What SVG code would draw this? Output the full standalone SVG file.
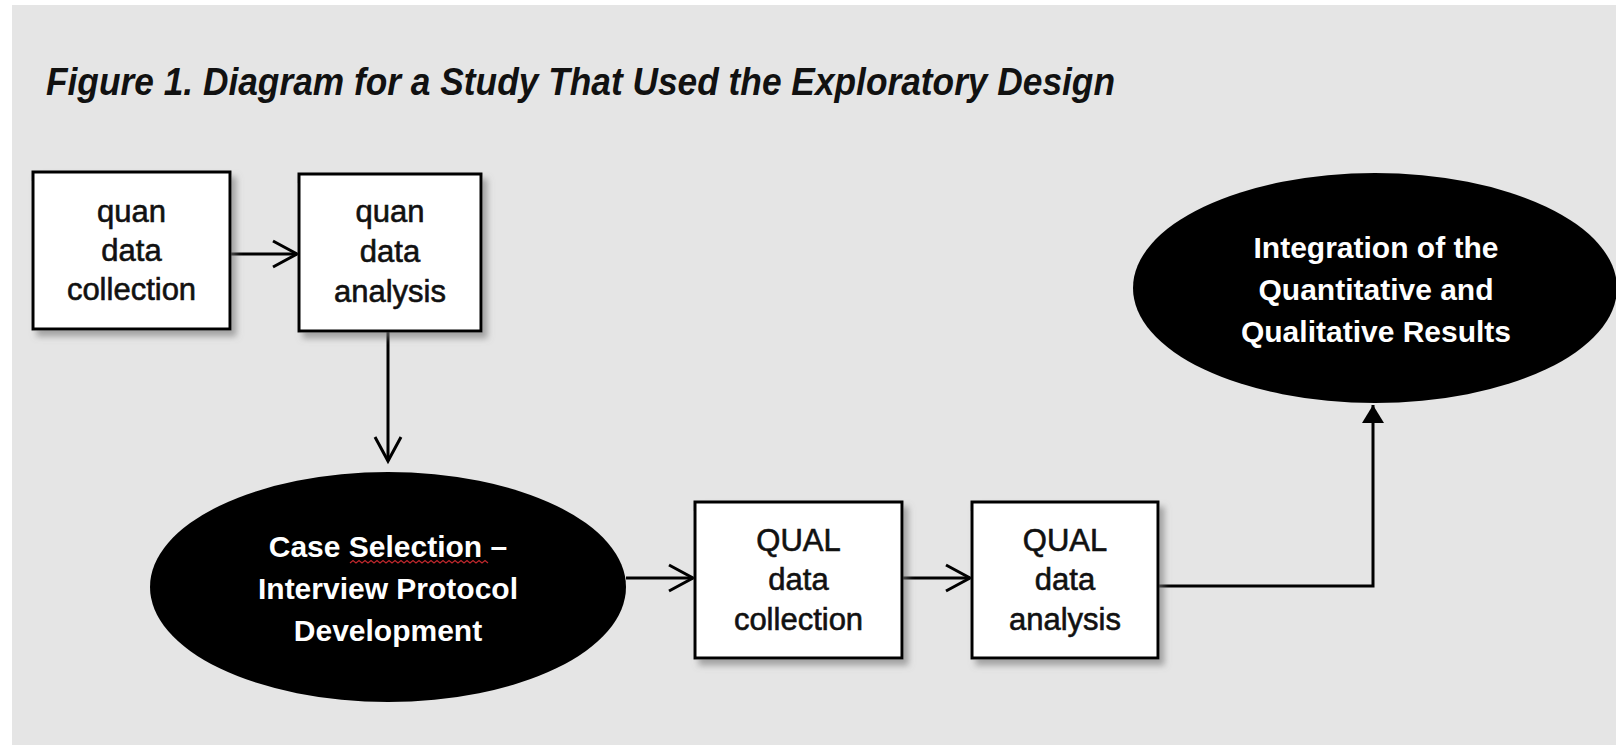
<svg xmlns="http://www.w3.org/2000/svg" width="1616" height="748" viewBox="0 0 1616 748">
<defs>
<style>
.box{fill:#fff;stroke:#000;stroke-width:3;filter:url(#sh)}
.ell{fill:#000}
.bt{font-family:"Liberation Sans",Arial,sans-serif;font-size:31px;fill:#111;stroke:#111;stroke-width:0.6;text-anchor:middle}
.et{font-family:"Liberation Sans",Arial,sans-serif;font-size:30px;font-weight:bold;fill:#fff;text-anchor:middle}
.ln{fill:none;stroke:#000;stroke-width:3}
.title{font-family:"Liberation Sans",Arial,sans-serif;font-size:38px;font-style:italic;font-weight:bold;fill:#111}
</style>
<filter id="sh" x="-10%" y="-10%" width="130%" height="130%">
<feDropShadow dx="5" dy="6" stdDeviation="3" flood-color="#777" flood-opacity="0.6"/>
</filter>
<marker id="open" markerUnits="userSpaceOnUse" markerWidth="30" markerHeight="30" viewBox="0 0 30 30" refX="26" refY="15" orient="auto" overflow="visible">
<path d="M2,2 L26,15 L2,28" fill="none" stroke="#000" stroke-width="3"/>
</marker>
<marker id="solid" markerUnits="userSpaceOnUse" markerWidth="20" markerHeight="22" viewBox="0 0 20 22" refX="18" refY="11" orient="auto" overflow="visible">
<path d="M0,0 L18,11 L0,22 Z" fill="#000"/>
</marker>
</defs>
<rect x="0" y="0" width="1616" height="748" fill="#fff"/>
<rect x="12" y="5" width="1604" height="740" fill="#e5e5e5"/>
<text class="title" x="46" y="95" textLength="1069" lengthAdjust="spacingAndGlyphs">Figure 1. Diagram for a Study That Used the Exploratory Design</text>

<g id="connectors">
<line class="ln" x1="231" y1="254" x2="297" y2="254" marker-end="url(#open)"/>
<line class="ln" x1="388" y1="332" x2="388" y2="461" marker-end="url(#open)"/>
<line class="ln" x1="626" y1="578" x2="693" y2="578" marker-end="url(#open)"/>
<line class="ln" x1="903" y1="578" x2="970" y2="578" marker-end="url(#open)"/>
<polyline class="ln" points="1159,586 1373,586 1373,405" marker-end="url(#solid)"/>
</g>

<g id="quan-collection">
<rect class="box" x="33" y="172" width="197" height="157"/>
<text class="bt" x="131.5" y="222">quan</text>
<text class="bt" x="131.5" y="261">data</text>
<text class="bt" x="131.5" y="300">collection</text>
</g>
<g id="quan-analysis">
<rect class="box" x="299" y="174" width="182" height="157"/>
<text class="bt" x="390" y="222">quan</text>
<text class="bt" x="390" y="262">data</text>
<text class="bt" x="390" y="302">analysis</text>
</g>
<g id="case-selection">
<ellipse class="ell" cx="388" cy="587" rx="238" ry="115"/>
<text class="et" x="388" y="557">Case Selection –</text>
<text class="et" x="388" y="599">Interview Protocol</text>
<text class="et" x="388" y="641">Development</text>
<path d="M350,563 l3,-2.5 l3,2.5 l3,-2.5 l3,2.5 l3,-2.5 l3,2.5 l3,-2.5 l3,2.5 l3,-2.5 l3,2.5 l3,-2.5 l3,2.5 l3,-2.5 l3,2.5 l3,-2.5 l3,2.5 l3,-2.5 l3,2.5 l3,-2.5 l3,2.5 l3,-2.5 l3,2.5 l3,-2.5 l3,2.5 l3,-2.5 l3,2.5 l3,-2.5 l3,2.5 l3,-2.5 l3,2.5 l3,-2.5 l3,2.5 l3,-2.5 l3,2.5 l3,-2.5 l3,2.5 l3,-2.5 l3,2.5 l3,-2.5 l3,2.5 l3,-2.5 l3,2.5 l3,-2.5 l3,2.5 l3,-2.5 l3,2.5" fill="none" stroke="#c0282d" stroke-width="1.2"/>
</g>
<g id="qual-collection">
<rect class="box" x="695" y="502" width="207" height="156"/>
<text class="bt" x="798.5" y="551">QUAL</text>
<text class="bt" x="798.5" y="590">data</text>
<text class="bt" x="798.5" y="630">collection</text>
</g>
<g id="qual-analysis">
<rect class="box" x="972" y="502" width="186" height="156"/>
<text class="bt" x="1065" y="551">QUAL</text>
<text class="bt" x="1065" y="590">data</text>
<text class="bt" x="1065" y="630">analysis</text>
</g>
<g id="integration">
<ellipse class="ell" cx="1375" cy="288" rx="242" ry="115"/>
<text class="et" x="1376" y="258">Integration of the</text>
<text class="et" x="1376" y="300">Quantitative and</text>
<text class="et" x="1376" y="342">Qualitative Results</text>
</g>
</svg>
